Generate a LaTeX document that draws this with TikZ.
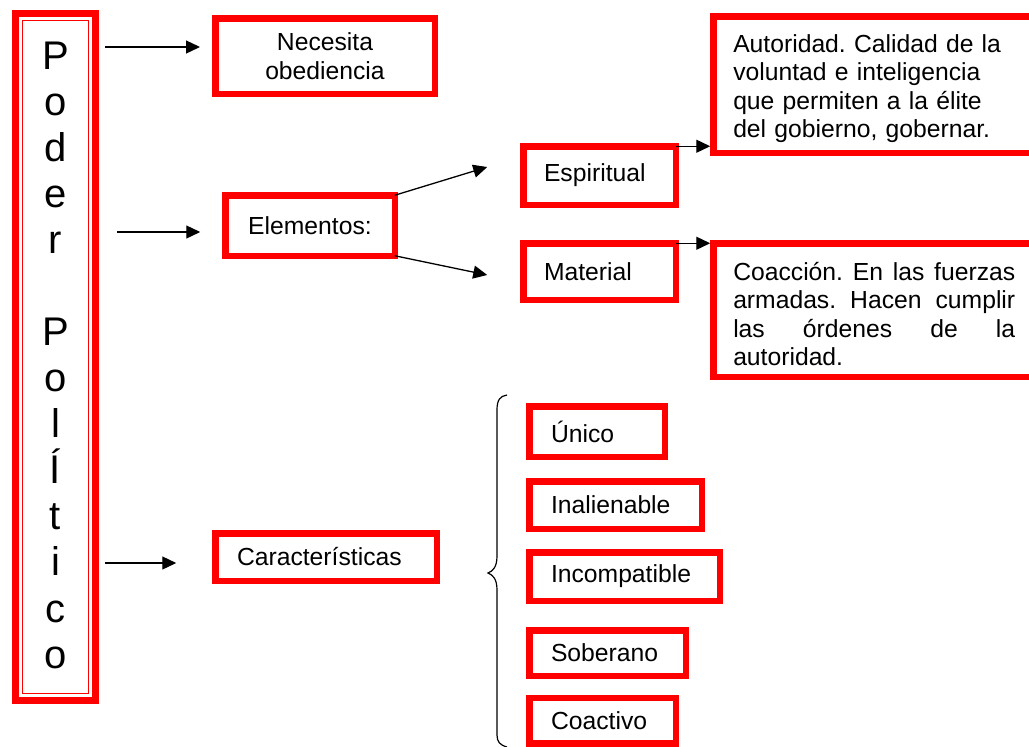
\documentclass[tikz,border=0pt]{standalone}
\usepackage{fontspec}
\setmainfont{Liberation Sans}
\usetikzlibrary{arrows.meta,calc}
\frenchspacing
\newcommand{\jline}[1]{\leavevmode\hbox to 282pt{#1}}
\begin{document}
\begin{tikzpicture}[x=1pt,y=-1pt,
  box/.style={draw=red, line width=6.5pt, inner sep=0pt, outer sep=0pt, font=\fontsize{24.7}{28.4}\selectfont},
  lbox/.style={box, anchor=west, inner xsep=21.75pt, align=left},
  arr/.style={-{Triangle[length=14pt,width=13pt]}, line width=1.3pt, black},
  bracestyle/.style={line width=1.2pt, black},
]
\useasboundingbox (0,0) rectangle (1029,747);
\clip (0,0) rectangle (1029,747);

% Poder Politico column
\node[box, line width=7pt, minimum width=80pt, minimum height=687pt] (poderbox) at (55.5,357) {};
\draw[red, line width=1.5pt] ($(poderbox.north west)+(7,7)$) rectangle ($(poderbox.south east)+(-7,-7)$);
\node[font=\fontsize{40}{46.08}\selectfont, align=center, inner sep=0pt] (poder) at (55.5,355)
  {P\\o\\d\\e\\r\\\mbox{}\\P\\o\\l\\Í\\t\\i\\c\\o};

% first level
\node[box, minimum width=219.5pt, minimum height=75.5pt, align=center, font=\fontsize{24.7}{29}\selectfont] (nec) at (325,56) {Necesita\\obediencia};
\node[box, minimum width=169.5pt, minimum height=60.5pt] (elem) at (310,225.5) {Elementos:};
\node[lbox, text width=178pt, minimum height=47.5pt] (car) at (215.25,557) {Características};

% elements
\node[lbox, inner xsep=20.75pt, text width=111pt, minimum height=58.5pt] (esp) at (523.25,175.5) {Espiritual};
\node[lbox, inner xsep=20.75pt, text width=111pt, minimum height=56.5pt] (mat) at (523.25,271.5) {Material};

\node[lbox, inner xsep=20pt, text width=282pt, minimum height=136.5pt] (aut) at (713.25,84.5)
  {\rule{0pt}{26pt}Autoridad. Calidad de la\\voluntad e inteligencia\\que permiten a la élite\\del gobierno, gobernar.};
\node[lbox, inner xsep=20pt, text width=282pt, minimum height=133.5pt] (coa) at (713.25,310)
  {\jline{\rule{0pt}{26pt}Coacción.\hfill En\hfill las\hfill fuerzas}\\\jline{armadas.\hfill Hacen\hfill cumplir}\\\jline{las\hfill órdenes\hfill de\hfill la}\\autoridad.};

% characteristics
\node[lbox, text width=92pt, minimum height=50.5pt] (unico) at (529.25,431.5) {Único};
\node[lbox, text width=129pt, minimum height=47.5pt] (inal) at (529.25,505) {Inalienable};
\node[lbox, text width=147pt, minimum height=48.5pt] (incomp) at (529.25,576.5) {Incompatible};
\node[lbox, text width=113pt, minimum height=45.5pt] (sob) at (529.25,653) {Soberano};
\node[lbox, text width=103pt, minimum height=45.5pt] (coac) at (529.25,720.5) {Coactivo};

% arrows
\draw[arr] ($(poderbox.east |- nec.west)+(9.5,-9)$) -- ($(nec.west)+(-15.25,-9)$);
\draw[arr] ($(poderbox.east |- elem.west)+(21.5,6.5)$) -- ($(elem.west)+(-25,6.5)$);
\draw[arr] ($(poderbox.east |- car.west)+(9.5,6)$) -- ($(car.west)+(-39,6)$);
\draw[arr] (elem.north east) -- ($(esp.west)+(-36,-8.5)$);
\draw[arr] (elem.south east) -- ($(mat.west)+(-36,3.5)$);
\draw[arr, shorten >=3pt] (esp.north east) -- (esp.north east -| aut.west);
\draw[arr, shorten >=3pt] (mat.north east) -- (mat.north east -| coa.west);

% brace
\draw[bracestyle] (507,395) .. controls (500,396) and (497,400) .. (497,410) -- (497,556)
  .. controls (497,567) and (493,571) .. (488,573)
  .. controls (493,575) and (497,579) .. (497,590) -- (497,735)
  .. controls (497,742) and (500,745) .. (507,747);
\end{tikzpicture}
\end{document}
